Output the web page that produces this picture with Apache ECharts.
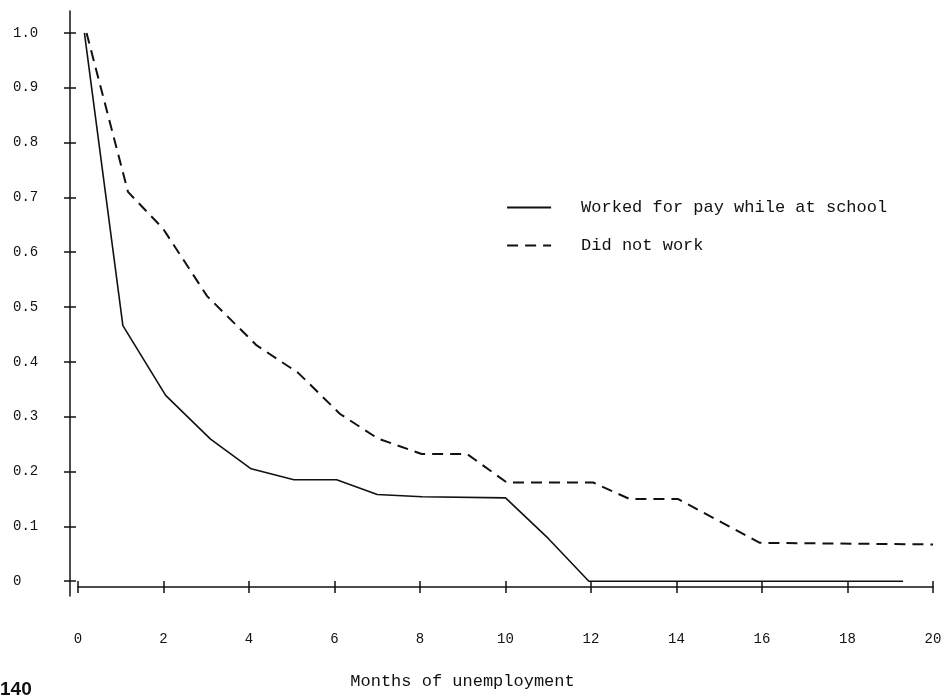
<!DOCTYPE html>
<html>
<head>
<meta charset="utf-8">
<script src="https://cdn.jsdelivr.net/npm/echarts@6/dist/echarts.min.js"></script>
<style>
  html, body { margin: 0; padding: 0; background: #ffffff; }
  #chart { width: 950px; height: 695px; }
</style>
</head>
<body>
<div id="chart"></div>
<script>
// Share of school leavers still unemployed, by months of unemployment
const workedMonths = [0.15, 1.05, 2.05, 3.1, 4.05, 5.05, 6.05, 7.0, 8.05, 10.0, 11.0, 11.95, 14, 16, 18, 19.3];
const workedValues = [1.0, 0.466, 0.339, 0.259, 0.205, 0.185, 0.185, 0.158, 0.154, 0.152, 0.078, 0.0, 0.0, 0.0, 0.0, 0.0];

const notWorkedMonths = [0.2, 1.17, 1.99, 3.02, 4.18, 5.15, 6.13, 7.02, 8.04, 9.1, 10.03, 12.05, 12.9, 14.03, 15.95, 20];
const notWorkedValues = [1.0, 0.71, 0.643, 0.52, 0.43, 0.38, 0.305, 0.26, 0.232, 0.232, 0.18, 0.18, 0.15, 0.15, 0.07, 0.067];

const seriesNames = ['Worked for pay while at school', 'Did not work'];
const yTicks = [0, 0.1, 0.2, 0.3, 0.4, 0.5, 0.6, 0.7, 0.8, 0.9, 1.0];
const xTitle = 'Months of unemployment';
const pageNumber = '140';

const ink = '#111111';
const mono = '"Liberation Mono", "DejaVu Sans Mono", monospace';

function pairs(xs, ys) {
  return xs.map((x, i) => [x, ys[i]]);
}

const xBase = {
  type: 'value',
  min: 0,
  max: 20,
  interval: 2,
  offset: -9,
  splitLine: { show: false }
};

const yBase = {
  type: 'value',
  min: -0.027,
  max: 1.04,
  position: 'left',
  offset: 8,
  splitLine: { show: false }
};

const chart = echarts.init(document.getElementById('chart'), null, { renderer: 'canvas' });
chart.setOption({
  animation: false,
  backgroundColor: '#ffffff',
  grid: { left: 78, right: 17, top: 11, bottom: 95, containLabel: false },
  legend: {
    orient: 'vertical',
    left: 506,
    top: 199,
    padding: 0,
    itemWidth: 44,
    itemHeight: 14,
    itemGap: 21,
    data: seriesNames,
    itemStyle: { opacity: 0 },
    lineStyle: { width: 2.2 },
    textStyle: { fontFamily: mono, fontSize: 17, color: ink, padding: [0, 0, 0, 25] }
  },
  xAxis: [
    Object.assign({}, xBase, {
      position: 'bottom',
      axisLine: { show: true, onZero: false, lineStyle: { color: ink, width: 1.5 } },
      axisTick: { show: true, inside: false, length: 6, lineStyle: { color: ink, width: 1.5 } },
      axisLabel: { show: true, margin: 45, fontFamily: mono, fontSize: 14, color: ink },
      name: xTitle,
      nameLocation: 'middle',
      nameGap: 86,
      nameTextStyle: { fontFamily: mono, fontSize: 17, color: ink, padding: [0, 86, 0, 0] }
    }),
    Object.assign({}, xBase, {
      position: 'bottom',
      axisLine: { show: false, onZero: false },
      axisTick: { show: true, inside: true, length: 6, lineStyle: { color: ink, width: 1.5 } },
      axisLabel: { show: false }
    })
  ],
  yAxis: [
    Object.assign({}, yBase, {
      axisLine: { show: true, onZero: false, lineStyle: { color: ink, width: 1.5 } },
      axisTick: { show: true, inside: false, length: 6, customValues: yTicks, lineStyle: { color: ink, width: 1.5 } },
      axisLabel: {
        show: true,
        customValues: yTicks,
        align: 'left',
        margin: 57,
        fontFamily: mono,
        fontSize: 14,
        color: ink,
        formatter: v => (Math.abs(v) < 1e-9 ? '0' : v.toFixed(1))
      }
    }),
    Object.assign({}, yBase, {
      axisLine: { show: false, onZero: false },
      axisTick: { show: true, inside: true, length: 6, customValues: yTicks, lineStyle: { color: ink, width: 1.5 } },
      axisLabel: { show: false }
    })
  ],
  graphic: [
    {
      type: 'text',
      left: 0,
      top: 680,
      style: { text: pageNumber, font: 'bold 19px "Liberation Sans", Arial, sans-serif', fill: '#111' }
    }
  ],
  series: [
    {
      name: seriesNames[0],
      type: 'line',
      xAxisIndex: 0,
      yAxisIndex: 0,
      data: pairs(workedMonths, workedValues),
      symbol: 'none',
      lineStyle: { color: ink, width: 1.6, type: 'solid' },
      itemStyle: { color: ink }
    },
    {
      name: seriesNames[1],
      type: 'line',
      xAxisIndex: 0,
      yAxisIndex: 0,
      data: pairs(notWorkedMonths, notWorkedValues),
      symbol: 'none',
      lineStyle: { color: ink, width: 2, type: [11, 7] },
      itemStyle: { color: ink }
    }
  ]
});
</script>
</body>
</html>
